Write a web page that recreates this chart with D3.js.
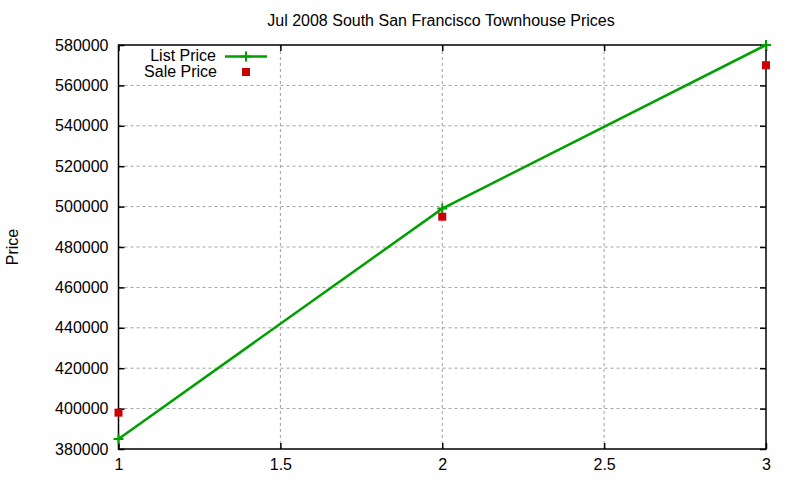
<!DOCTYPE html>
<html>
<head>
<meta charset="utf-8">
<script src="https://cdn.jsdelivr.net/npm/d3@7"></script>
<style>
body { margin: 0; background: #fff; }
text { font-family: "Liberation Sans", Arial, sans-serif; font-size: 16px; fill: #000; }
</style>
</head>
<body>
<div id="chart"></div>
<script>
// data
var bedrooms = [1, 2, 3];
var listPrice = [385000, 499000, 580000];
var salePrice = [398000, 495000, 570000];
var xTicks = [1, 1.5, 2, 2.5, 3];
var yTicks = [380000, 400000, 420000, 440000, 460000, 480000, 500000, 520000, 540000, 560000, 580000];

var width = 800, height = 480,
	padLeft = 118.5, padRight = 766, padTop = 45, padBottom = 449;

var svg = d3.select("#chart").append("svg")
	.attr("width", width)
	.attr("height", height);

var x = d3.scaleLinear().domain([1, 3]).range([padLeft, padRight]);
var y = d3.scaleLinear().domain([380000, 580000]).range([padBottom, padTop]);

// grid
var grid = svg.append("g").attr("stroke", "#a0a0a0").attr("stroke-dasharray", "3,3").attr("stroke-width", 1);
grid.selectAll(".gx").data(xTicks.slice(1, -1)).enter().append("line")
	.attr("x1", function(d){ return x(d); }).attr("x2", function(d){ return x(d); })
	.attr("y1", padTop).attr("y2", padBottom);
grid.selectAll(".gy").data(yTicks.slice(1, -1)).enter().append("line")
	.attr("y1", function(d){ return y(d); }).attr("y2", function(d){ return y(d); })
	.attr("x1", padLeft).attr("x2", padRight);

// axes, mirrored ticks like gnuplot
svg.append("g").attr("transform", "translate(0," + padBottom + ")")
	.call(d3.axisBottom(x).tickValues(xTicks).tickSize(-6).tickPadding(10).tickFormat(d3.format("")));
svg.append("g").attr("transform", "translate(0," + padTop + ")")
	.call(d3.axisTop(x).tickValues(xTicks).tickSize(-6).tickFormat(""));
svg.append("g").attr("transform", "translate(" + padLeft + ",0)")
	.call(d3.axisLeft(y).tickValues(yTicks).tickSize(-6).tickPadding(10).tickFormat(d3.format("d")));
svg.append("g").attr("transform", "translate(" + padRight + ",0)")
	.call(d3.axisRight(y).tickValues(yTicks).tickSize(-6).tickFormat(""));

svg.selectAll(".domain").remove();
svg.selectAll(".tick line").attr("stroke", "#000").attr("stroke-width", 1.5);
svg.selectAll(".tick text").style("font-family", "'Liberation Sans', Arial, sans-serif").style("font-size", "16px").attr("fill", "#000");
svg.append("rect").attr("x", padLeft).attr("y", padTop).attr("width", padRight - padLeft).attr("height", padBottom - padTop)
	.attr("fill", "none").attr("stroke", "#000").attr("stroke-width", 1.5);

// list price line
var green = "#00a000", red = "#cc0000";
var line = d3.line().x(function(d){ return x(d[0]); }).y(function(d){ return y(d[1]); });
var listPts = bedrooms.map(function(b, i){ return [b, listPrice[i]]; });
svg.append("path").datum(listPts)
	.attr("d", line).attr("fill", "none").attr("stroke", green).attr("stroke-width", 2.5);
svg.selectAll(".plus").data(listPts).enter().append("path")
	.attr("d", function(d){ var px = x(d[0]), py = y(d[1]); return "M" + (px - 5) + "," + py + "H" + (px + 5) + "M" + px + "," + (py - 5) + "V" + (py + 5); })
	.attr("stroke", green).attr("stroke-width", 2);

// sale price squares
svg.selectAll(".sq").data(bedrooms).enter().append("rect")
	.attr("x", function(d){ return x(d) - 4; })
	.attr("y", function(d, i){ return y(salePrice[i]) - 4; })
	.attr("width", 8).attr("height", 8).attr("fill", red);

// legend
var lg = svg.append("g");
lg.append("text").attr("x", 216).attr("y", 61).attr("text-anchor", "end").text("List Price");
lg.append("line").attr("x1", 225).attr("x2", 267).attr("y1", 56.5).attr("y2", 56.5).attr("stroke", green).attr("stroke-width", 2.5);
lg.append("path").attr("d", "M241,56.5H251M246,51.5V61.5").attr("stroke", green).attr("stroke-width", 2);
lg.append("text").attr("x", 217).attr("y", 77).attr("text-anchor", "end").text("Sale Price");
lg.append("rect").attr("x", 242).attr("y", 68).attr("width", 8).attr("height", 8).attr("fill", red);

// title and y label
svg.append("text").attr("x", 441).attr("y", 26).attr("text-anchor", "middle")
	.text("Jul 2008 South San Francisco Townhouse Prices");
svg.append("text").attr("transform", "translate(18,247) rotate(-90)").attr("text-anchor", "middle")
	.text("Price");
</script>
</body>
</html>
